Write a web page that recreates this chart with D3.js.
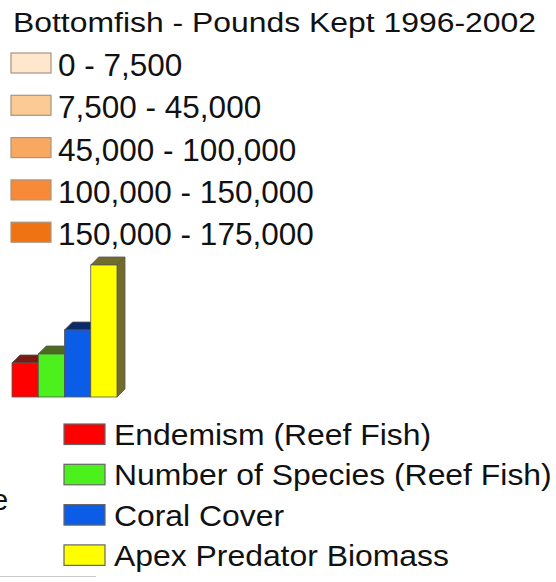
<!DOCTYPE html>
<meta charset="utf-8">
<head>
<style>
  body { margin: 0; background: #fff; }
  text { font-family: "Liberation Sans", Arial, sans-serif; fill: #111; }
</style>
</head>
<body>
<script src="https://d3js.org/d3.v7.min.js"></script>
<div id="my_dataviz"></div>

<script>
    // legend data
    var title = "Bottomfish - Pounds Kept 1996-2002";
    var classLabels = ["0 - 7,500", "7,500 - 45,000", "45,000 - 100,000", "100,000 - 150,000", "150,000 - 175,000"];
    var classColors = ["#fee7cc", "#fcca94", "#f9a862", "#f68a38", "#ef7312"];

    var barNames = ["Endemism (Reef Fish)", "Number of Species (Reef Fish)", "Coral Cover", "Apex Predator Biomass"];
    var barValues = [34, 43, 67, 132];
    var barColors = ["#ff0000", "#4cf01c", "#0b5ce6", "#ffff00"];
    var barShade = ["#7a1a10", "#4a6b20", "#0a2a6a", "#726c2c"];

    var width = 556, height = 582;

    var svg = d3.select("#my_dataviz")
      .append("svg")
        .attr("width", width)
        .attr("height", height);

    // title (the original is stretched a bit wide)
    svg.append("text")
        .attr("x", 13)
        .attr("y", 32)
        .attr("font-size", "27px")
        .attr("textLength", 523)
        .attr("lengthAdjust", "spacingAndGlyphs")
        .text(title);

    // class legend
    var rowY = d3.scaleLinear().domain([0, 1]).range([76, 118.3]);

    var classes = svg.append("g").selectAll("g")
        .data(classLabels)
        .enter().append("g");

    classes.append("rect")
        .attr("x", 11)
        .attr("y", function(d, i) { return rowY(i) - 23; })
        .attr("width", 40)
        .attr("height", 20)
        .attr("fill", function(d, i) { return classColors[i]; })
        .attr("stroke", "#a89580")
        .attr("stroke-width", 1.2);

    classes.append("text")
        .attr("x", 58)
        .attr("y", function(d, i) { return rowY(i); })
        .attr("font-size", "31.5px")
        .text(function(d) { return d; });

    // little 3d bar chart
    var depth = 8;
    var x = d3.scaleBand()
        .domain(barNames)
        .range([12, 117])
        .padding(0);
    var y = d3.scaleLinear()
        .domain([0, 132])
        .range([397, 265]);

    var bars = svg.append("g").selectAll("g")
        .data(barNames)
        .enter().append("g");

    // side face
    bars.append("path")
        .attr("d", function(d, i) {
          var x1 = x(d) + x.bandwidth(), yt = y(barValues[i]), yb = y(0);
          return "M" + x1 + "," + yt + "L" + (x1 + depth) + "," + (yt - depth) +
                 "L" + (x1 + depth) + "," + (yb - depth) + "L" + x1 + "," + yb + "Z";
        })
        .attr("fill", function(d, i) { return barShade[i]; })
        .attr("stroke", "#555")
        .attr("stroke-width", 0.8);

    // top face
    bars.append("path")
        .attr("d", function(d, i) {
          var x0 = x(d), x1 = x0 + x.bandwidth(), yt = y(barValues[i]);
          return "M" + x0 + "," + yt + "L" + (x0 + depth) + "," + (yt - depth) +
                 "L" + (x1 + depth) + "," + (yt - depth) + "L" + x1 + "," + yt + "Z";
        })
        .attr("fill", function(d, i) { return barShade[i]; })
        .attr("stroke", "#555")
        .attr("stroke-width", 0.8);

    // front face
    bars.append("rect")
        .attr("x", function(d) { return x(d); })
        .attr("y", function(d, i) { return y(barValues[i]); })
        .attr("width", x.bandwidth())
        .attr("height", function(d, i) { return y(0) - y(barValues[i]); })
        .attr("fill", function(d, i) { return barColors[i]; })
        .attr("stroke", "#555")
        .attr("stroke-width", 0.8);

    // bar legend
    var legY = d3.scaleLinear().domain([0, 1]).range([445, 485.3]);

    var leg = svg.append("g").selectAll("g")
        .data(barNames)
        .enter().append("g");

    leg.append("rect")
        .attr("x", 64)
        .attr("y", function(d, i) { return legY(i) - 21; })
        .attr("width", 41)
        .attr("height", 20.5)
        .attr("fill", function(d, i) { return barColors[i]; })
        .attr("stroke", "#666")
        .attr("stroke-width", 1.2);

    leg.append("text")
        .attr("transform", function(d, i) { return "translate(114," + legY(i) + ") scale(1.1,1)"; })
        .attr("font-size", "29px")
        .text(function(d) { return d; });

    // bits of the map peeking in at the edges
    svg.append("text")
        .attr("x", -8)
        .attr("y", 510)
        .attr("font-size", "29px")
        .text("e");

    svg.append("line")
        .attr("x1", 0).attr("x2", 96)
        .attr("y1", 576.5).attr("y2", 576.5)
        .attr("stroke", "#ccc")
        .attr("stroke-width", 1);
</script>
</body>
